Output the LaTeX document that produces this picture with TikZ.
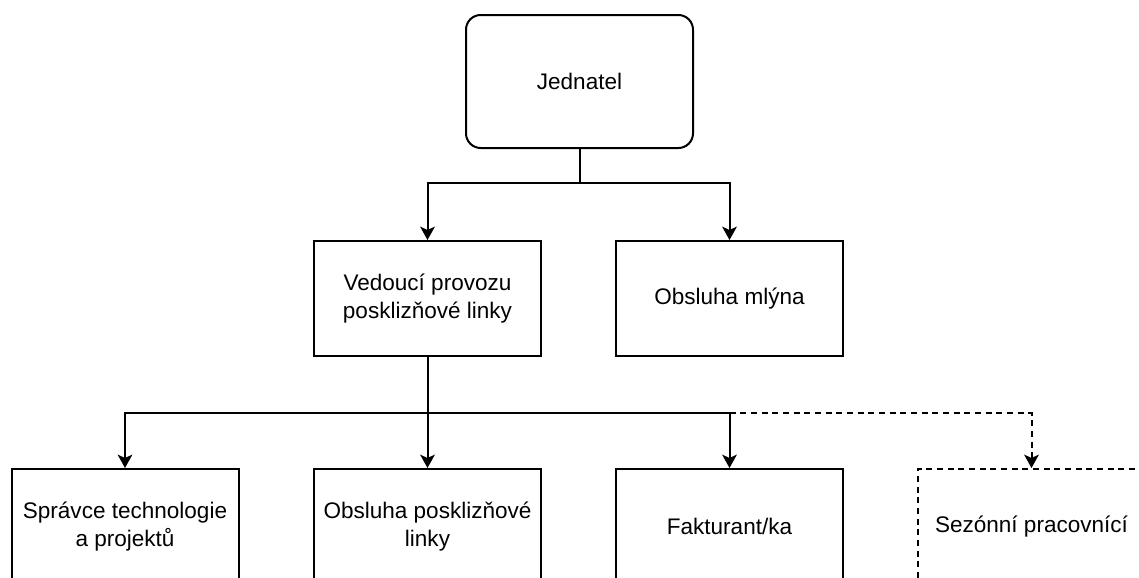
\documentclass[tikz,border=0pt]{standalone}
\usepackage{fontspec}
\setmainfont{Liberation Sans}
\usetikzlibrary{arrows.meta}
\begin{document}
\begin{tikzpicture}[x=0.75pt,y=-0.75pt,
  box/.style={draw,line width=1.5pt,minimum width=170.25pt,minimum height=86.25pt,inner sep=0pt,align=center,
    font=\fontsize{16.9}{21.5}\selectfont},
  rbox/.style={box,rounded corners=11pt,minimum height=99.75pt},
  dbox/.style={box,dash pattern=on 4.5pt off 3.5pt},
  arr/.style={line width=1.5pt,-{Stealth[length=10pt,width=11pt,inset=2.5pt]}},
  darr/.style={arr,dash pattern=on 4.5pt off 3.5pt}]
\useasboundingbox (0,0) rectangle (1139,578);
\clip (0,0) rectangle (1139,578);
\node[rbox] (J) at (579.5,81.5) {Jednatel};
\node[box] (V) at (427.5,298.5) {Vedoucí provozu\\posklizňové linky};
\node[box] (O) at (729.5,298.5) {Obsluha mlýna};
\node[box] (S1) at (125,526.5) {Správce technologie\\a projektů};
\node[box] (S2) at (427.5,526.5) {Obsluha posklizňové\\linky};
\node[box] (S3) at (729.5,526.5) {Fakturant/ka};
\node[dbox] (S4) at (1031.5,526.5) {Sezónní pracovnící};
\coordinate (b1) at (0,183);
\coordinate (b2) at (0,413);
\draw[line width=1.5pt] (J.south) -- (J.south |- b1);
\draw[arr] (J.south |- b1) -| (V.north);
\draw[arr] (J.south |- b1) -| (O.north);
\draw[line width=1.5pt] (V.south) -- (V.south |- b2);
\draw[arr] (V.south |- b2) -| (S1.north);
\draw[arr] (V.south |- b2) -- (S2.north);
\draw[arr] (V.south |- b2) -| (S3.north);
\coordinate (d0) at (S3.north |- b2);
\draw[darr] (d0) -| (S4.north);
\end{tikzpicture}
\end{document}
